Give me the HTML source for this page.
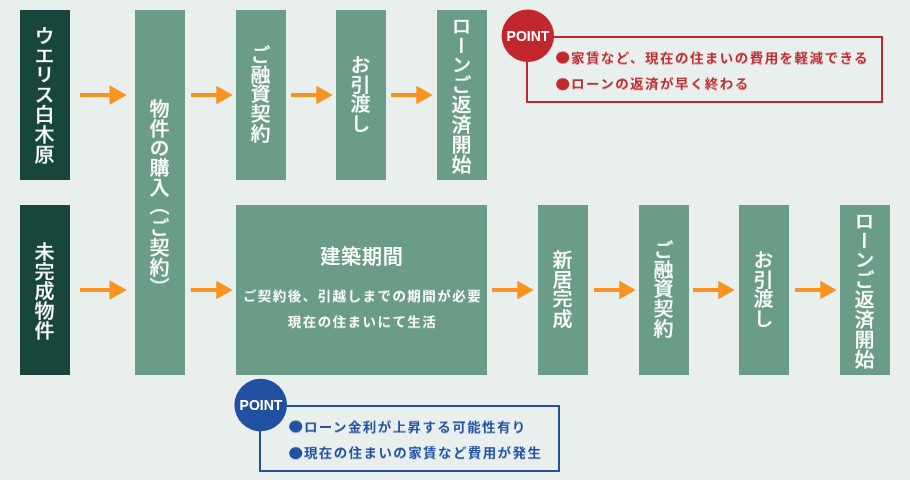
<!DOCTYPE html>
<html lang="ja">
<head>
<meta charset="utf-8">
<title>ご購入の流れ</title>
<style>
html,body{margin:0;padding:0;}
body{width:910px;height:480px;background:#e8efec;position:relative;overflow:hidden;
  font-family:"Liberation Sans","Noto Sans CJK JP",sans-serif;color:#fff;}
.bx{position:absolute;background:#6a9c88;}
.dk{background:#18453c;}
.v{position:absolute;left:-2px;width:100%;writing-mode:vertical-rl;font-size:20px;line-height:50px;
  letter-spacing:0.95px;transform:scaleY(0.95);transform-origin:0 0;white-space:nowrap;font-weight:500;text-align:left;-webkit-text-stroke:0.18px #fff;}
.ar{position:absolute;width:47px;height:20px;}
.pt{position:absolute;width:54px;height:54px;text-align:center;
  font-weight:700;font-size:14px;line-height:54px;letter-spacing:0;}
.v,.tx,.pt,.hd{will-change:transform;}
.cv{position:absolute;left:0;top:0;width:910px;height:480px;}
.pb{position:absolute;box-sizing:border-box;border:2px solid;}
.tx{position:absolute;white-space:nowrap;font-weight:700;font-size:13.5px;line-height:28.26px;letter-spacing:1.45px;transform:scaleY(0.92);transform-origin:0 0;}
.b{font-family:"Noto Sans CJK JP",sans-serif;line-height:0;font-size:14.5px;position:relative;top:0.4px;margin-left:0.5px;margin-right:-0.5px;}
.red{color:#c1272d;border-color:#c1272d;}
.blue{color:#2150a0;border-color:#2150a0;}
</style>
</head>
<body>
<!-- row labels -->
<div class="bx dk" style="left:20px;top:10px;width:50px;height:170px;"><div class="v" style="top:16px;">ウエリス白木原</div></div>
<div class="bx dk" style="left:20px;top:205px;width:50px;height:170px;"><div class="v" style="top:36.5px;">未完成物件</div></div>

<!-- shared column -->
<div class="bx" style="left:135px;top:10px;width:50px;height:365px;"><div class="v" style="top:89px;">物件の購入<span style="position:relative;top:-3px;">（</span>ご契約）</div></div>

<!-- row 1 -->
<div class="bx" style="left:236px;top:10px;width:50px;height:170px;"><div class="v" style="top:35px;">ご融資契約</div></div>
<div class="bx" style="left:336px;top:10px;width:50px;height:170px;"><div class="v" style="top:45px;">お引渡し</div></div>
<div class="bx" style="left:437px;top:10px;width:50px;height:170px;"><div class="v" style="top:6px;">ローンご返済開始</div></div>

<!-- row 2 -->
<div class="bx" style="left:236px;top:205px;width:251px;height:170px;">
  <div class="hd" style="position:absolute;left:0;width:100%;top:42px;text-align:center;font-size:20px;line-height:20px;font-weight:500;letter-spacing:0.8px;text-indent:0.8px;-webkit-text-stroke:0.18px #fff;">建築期間</div>
  <div class="tx" style="left:1px;width:100%;top:78.500px;text-align:center;color:#fff;">ご契約後、引越しまでの期間が必要<br>現在の住まいにて生活</div>
</div>
<div class="bx" style="left:538px;top:205px;width:50px;height:170px;"><div class="v" style="top:45px;">新居完成</div></div>
<div class="bx" style="left:639px;top:205px;width:50px;height:170px;"><div class="v" style="top:35px;">ご融資契約</div></div>
<div class="bx" style="left:739px;top:205px;width:50px;height:170px;"><div class="v" style="top:45px;">お引渡し</div></div>
<div class="bx" style="left:840px;top:205px;width:50px;height:170px;"><div class="v" style="top:6px;">ローンご返済開始</div></div>

<!-- arrows -->
<svg class="ar" style="left:80px;top:85px;width:47px;" viewBox="0 0 47 20"><path d="M0 8h29.500v-7.800l17.300 9.800-17.300 9.800v-7.800h-29.500z" fill="#f7931e"/></svg>
<svg class="ar" style="left:80px;top:280px;width:47px;" viewBox="0 0 47 20"><path d="M0 8h29.500v-7.800l17.300 9.800-17.300 9.800v-7.800h-29.500z" fill="#f7931e"/></svg>
<svg class="ar" style="left:191px;top:85px;width:42px;" viewBox="0 0 42 20"><path d="M0 8h25.300v-7.300l16.400 9.300-16.400 9.300v-7.300h-25.300z" fill="#f7931e"/></svg>
<svg class="ar" style="left:291px;top:85px;width:42px;" viewBox="0 0 42 20"><path d="M0 8h25.300v-7.300l16.400 9.300-16.400 9.300v-7.300h-25.300z" fill="#f7931e"/></svg>
<svg class="ar" style="left:391px;top:85px;width:42px;" viewBox="0 0 42 20"><path d="M0 8h25.300v-7.300l16.400 9.300-16.400 9.300v-7.300h-25.300z" fill="#f7931e"/></svg>
<svg class="ar" style="left:191px;top:280px;width:42px;" viewBox="0 0 42 20"><path d="M0 8h25.300v-7.300l16.400 9.300-16.400 9.300v-7.300h-25.300z" fill="#f7931e"/></svg>
<svg class="ar" style="left:492px;top:280px;width:42px;" viewBox="0 0 42 20"><path d="M0 8h25.300v-7.300l16.400 9.300-16.400 9.300v-7.300h-25.300z" fill="#f7931e"/></svg>
<svg class="ar" style="left:594px;top:280px;width:42px;" viewBox="0 0 42 20"><path d="M0 8h25.300v-7.300l16.400 9.300-16.400 9.300v-7.300h-25.300z" fill="#f7931e"/></svg>
<svg class="ar" style="left:693px;top:280px;width:42px;" viewBox="0 0 42 20"><path d="M0 8h25.300v-7.300l16.400 9.300-16.400 9.300v-7.300h-25.300z" fill="#f7931e"/></svg>
<svg class="ar" style="left:795.3px;top:280px;width:42px;" viewBox="0 0 42 20"><path d="M0 8h25.300v-7.300l16.400 9.300-16.400 9.300v-7.300h-25.300z" fill="#f7931e"/></svg>

<!-- point boxes -->
<div class="pb red" style="left:526px;top:36px;width:357px;height:67px;"></div>
<svg class="cv" viewBox="0 0 910 480"><circle cx="527.8" cy="35.7" r="26.2" fill="#c1272d"/><circle cx="260.7" cy="405" r="26.3" fill="#2150a0"/></svg>
<div class="pt" style="left:501px;top:9px;">POINT</div>
<div class="tx red" style="left:555.2px;top:46px;"><span class="b">●</span>家賃など、現在の住まいの費用を軽減できる<br><span class="b">●</span>ローンの返済が早く終わる</div>

<div class="pb blue" style="left:259px;top:405px;width:301px;height:67px;"></div>
<div class="pt" style="left:233.500px;top:378px;">POINT</div>
<div class="tx blue" style="left:288px;top:414.500px;letter-spacing:1.4px;"><span class="b">●</span>ローン金利が上昇する可能性有り<br><span class="b">●</span>現在の住まいの家賃など費用が発生</div>
</body>
</html>
